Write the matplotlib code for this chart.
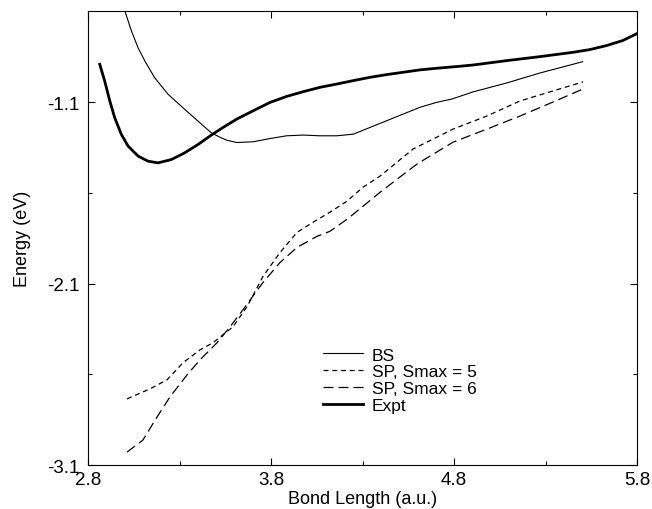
import matplotlib
matplotlib.use("Agg")
import matplotlib.pyplot as plt

plt.rcParams['font.family'] = ['Liberation Sans', 'DejaVu Sans']

# BS
bs_x = [2.985, 3.001, 3.037, 3.073, 3.110, 3.164, 3.237, 3.328, 3.401, 3.474, 3.521,
        3.558, 3.613, 3.703, 3.795, 3.886, 3.976, 4.068, 4.159, 4.250, 4.341, 4.432,
        4.523, 4.614, 4.705, 4.790, 4.905, 5.088, 5.270, 5.503]
bs_y = [-0.52, -0.597, -0.708, -0.800, -0.873, -0.966, -1.057, -1.140, -1.205, -1.270, -1.294,
        -1.310, -1.323, -1.319, -1.301, -1.286, -1.282, -1.286, -1.286, -1.277, -1.240, -1.203,
        -1.166, -1.129, -1.102, -1.083, -1.044, -0.995, -0.940, -0.878]

# SP, Smax = 5
sp5_x = [3.013, 3.139, 3.232, 3.319, 3.412, 3.483, 3.538, 3.592, 3.669, 3.756, 3.849,
         3.942, 4.03, 4.122, 4.215, 4.303, 4.396, 4.489, 4.576, 4.795, 4.98, 5.161, 5.341, 5.505]
sp5_y = [-2.735, -2.680, -2.630, -2.536, -2.465, -2.426, -2.382, -2.338, -2.227, -2.061, -1.929,
         -1.818, -1.762, -1.707, -1.646, -1.569, -1.508, -1.431, -1.359, -1.249, -1.177, -1.094, -1.039, -0.989]

# SP, Smax = 6
sp6_x = [3.013, 3.10, 3.177, 3.248, 3.341, 3.412, 3.505, 3.576, 3.647, 3.756, 3.849,
         3.942, 4.051, 4.122, 4.215, 4.303, 4.396, 4.489, 4.60, 4.795, 4.98, 5.161, 5.341, 5.505]
sp6_y = [-3.028, -2.962, -2.835, -2.724, -2.603, -2.520, -2.426, -2.338, -2.244, -2.094, -1.984,
         -1.901, -1.840, -1.812, -1.746, -1.674, -1.597, -1.525, -1.440, -1.321, -1.249, -1.177, -1.100, -1.028]

# Expt
ex_x = [2.864, 2.891, 2.919, 2.946, 2.982, 3.019, 3.074, 3.128, 3.183, 3.255, 3.328,
        3.401, 3.474, 3.535, 3.613, 3.703, 3.795, 3.886, 3.976, 4.068, 4.159, 4.250,
        4.341, 4.432, 4.523, 4.614, 4.705, 4.833, 4.905, 5.088, 5.270, 5.452, 5.543,
        5.634, 5.723, 5.798]
ex_y = [-0.892, -0.984, -1.094, -1.187, -1.278, -1.343, -1.398, -1.426, -1.435, -1.417, -1.380,
        -1.334, -1.282, -1.242, -1.194, -1.148, -1.102, -1.069, -1.043, -1.019, -1.001, -0.982,
        -0.964, -0.949, -0.936, -0.923, -0.914, -0.903, -0.896, -0.872, -0.850, -0.826, -0.811,
        -0.789, -0.761, -0.724]

xticks = [2.8, 3.8, 4.8, 5.8]
xminor = [3.3, 4.3, 5.3]
yticks = [-3.1, -2.1, -1.1]
yminor = [-2.6, -1.6]

fig = plt.figure(figsize=(6.52, 5.10), dpi=100)
ax = fig.add_axes([0.135, 0.086, 0.842, 0.890])

ax.plot(bs_x, bs_y, color='black', lw=0.8, label='BS')
ax.plot(sp5_x, sp5_y, color='black', lw=0.9, dashes=(4, 3), label='SP, Smax = 5')
ax.plot(sp6_x, sp6_y, color='black', lw=0.9, dashes=(8, 4), label='SP, Smax = 6')
ax.plot(ex_x, ex_y, color='black', lw=2.0, label='Expt')

ax.set_xlim(2.8, 5.8)
ax.set_ylim(-3.1, -0.6)
ax.set_xticks(xticks)
ax.set_xticks(xminor, minor=True)
ax.set_yticks(yticks)
ax.set_yticks(yminor, minor=True)
ax.set_xticklabels([str(v) for v in xticks])
ax.set_yticklabels([str(v) for v in yticks])
ax.tick_params(which='both', direction='in', top=True, right=True, labelsize=13.5, width=0.8)
ax.tick_params(which='major', length=5)
ax.tick_params(which='minor', length=3)
ax.tick_params(axis='x', pad=4)
ax.tick_params(axis='y', pad=6)

ax.set_xlabel('Bond Length (a.u.)', fontsize=13, labelpad=2)
ax.set_ylabel('Energy (eV)', fontsize=13, labelpad=12)

ax.legend(loc='lower left', bbox_to_anchor=(0.40, 0.08), frameon=False, fontsize=12.5,
          handlelength=2.3, handletextpad=0.5, labelspacing=0.1)

fig.savefig('out.png', dpi=100)
